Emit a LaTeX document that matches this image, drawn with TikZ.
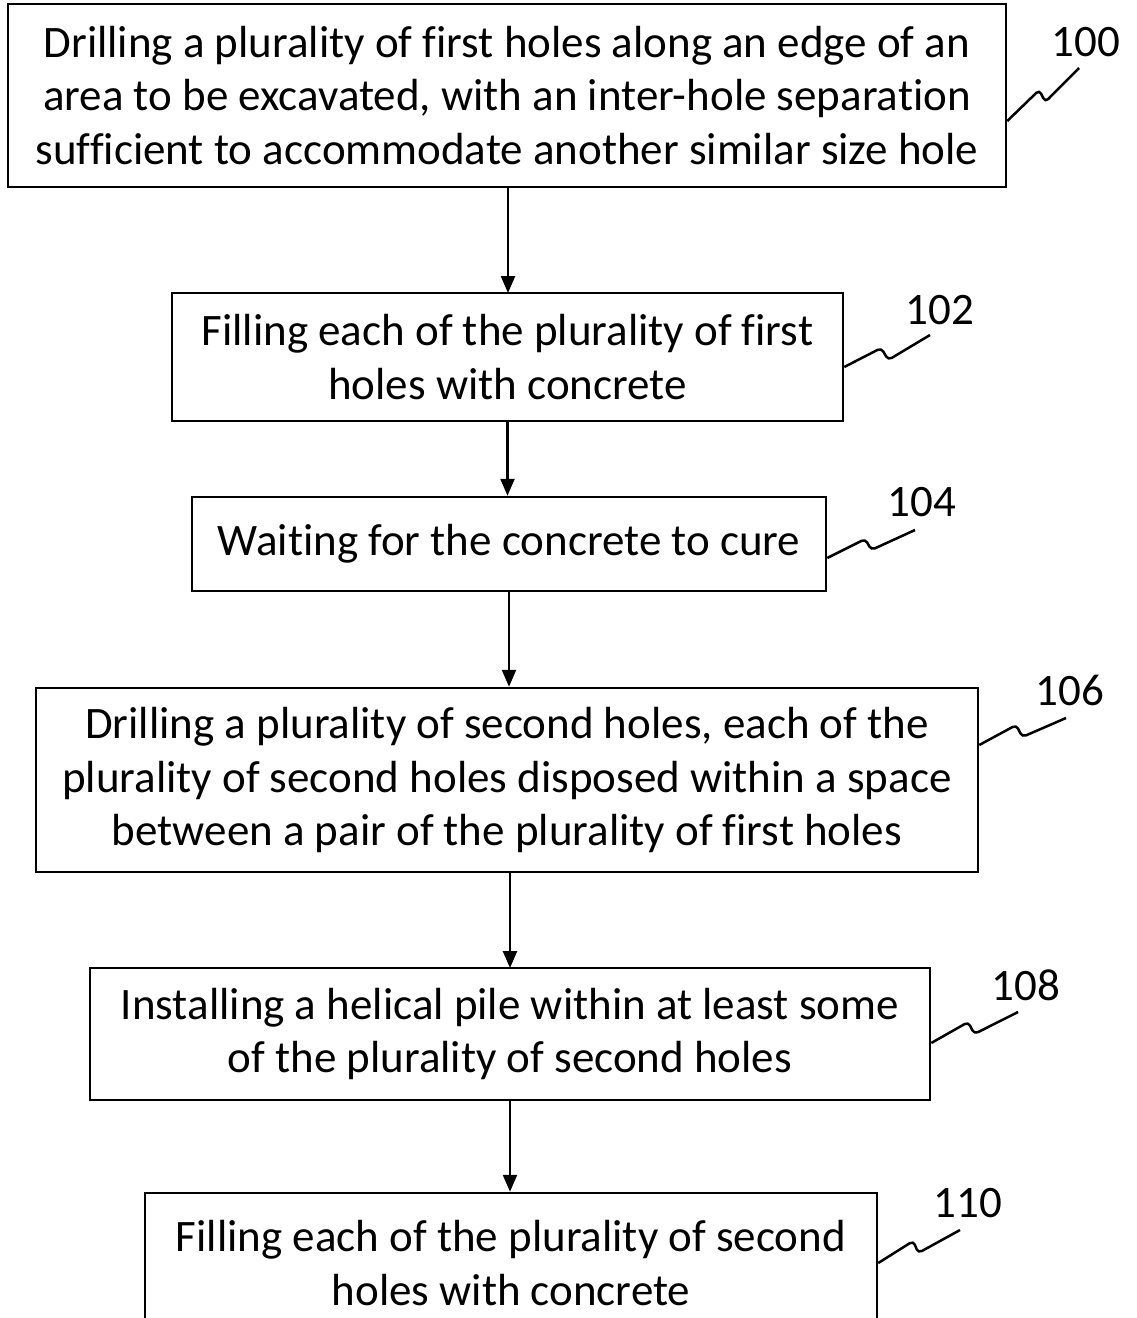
\documentclass[tikz,border=0pt]{standalone}
\usepackage{fontspec}
\setmainfont[Ligatures={NoCommon}]{Carlito}
\usetikzlibrary{arrows.meta}
\begin{document}
\begin{tikzpicture}[x=1pt,y=-1pt,
  stepbox/.style={draw,line width=2.5pt,align=center,inner sep=0pt,
    font=\fontsize{45}{53.5}\selectfont},
  flow/.style={line width=2.5pt,-{Triangle[length=17pt,width=14pt]}},
  squig/.style={line width=2.5pt,rounded corners=4pt},
  lbl/.style={font=\fontsize{45}{50}\selectfont,inner sep=0pt}]
\useasboundingbox (0,0) rectangle (1137,1318);
\node[stepbox,minimum width=998pt,minimum height=183pt] (b100) at (507,95.5)
  {Drilling a plurality of first holes along an edge of an\\area to be excavated, with an inter-hole separation\\sufficient to accommodate another similar size hole};
\node[stepbox,minimum width=671pt,minimum height=128pt] (b102) at (507.5,357)
  {Filling each of the plurality of first\\holes with concrete};
\node[stepbox,minimum width=634pt,minimum height=94pt] (b104) at (509,544)
  {Waiting for the concrete to cure};
\node[stepbox,minimum width=942pt,minimum height=184pt] (b106) at (507,780)
  {Drilling a plurality of second holes, each of the\\plurality of second holes disposed within a space\\between a pair of the plurality of first holes};
\node[stepbox,minimum width=840pt,minimum height=132pt] (b108) at (510,1034)
  {Installing a helical pile within at least some\\of the plurality of second holes};
\node[stepbox,minimum width=732pt,minimum height=140pt] (b110) at (511,1263)
  {Filling each of the plurality of second\\holes with concrete};
\draw[flow] (508,187) -- (508,293);
\draw[flow] (b102.south) -- (b102.south |- b104.north);
\draw[flow] (b104.south) -- (b104.south |- b106.north);
\draw[flow] (510,872) -- (510,968);
\draw[flow] (b108.south) -- (b108.south |- b110.north);
\node[lbl] (l100) at (1086,42) {100};
\node[lbl] (l102) at (940,310) {102};
\node[lbl] (l104) at (922,502) {104};
\node[lbl] (l106) at (1070,690) {106};
\node[lbl] (l108) at (1026,985) {108};
\node[lbl] (l110) at (968,1203) {110};
\coordinate (s100) at (1079,68);
\coordinate (s102) at (930,335);
\coordinate (s104) at (915,530);
\coordinate (s106) at (1066,718);
\coordinate (s108) at (1018,1012);
\coordinate (s110) at (960,1230);
\draw[squig] (b100.east |- 0,121) -- ++(32,-31) -- ++(6,12) -- (s100);
\draw[squig] (b102.east |- 0,367) -- ++(37,-19) -- ++(7,12) -- (s102);
\draw[squig] (b104.east |- 0,558) -- ++(38,-19) -- ++(6,11) -- (s104);
\draw[squig] (b106.east |- 0,745) -- ++(37,-20) -- ++(6,12) -- (s106);
\draw[squig] (b108.east |- 0,1043) -- ++(37,-21) -- ++(6,12) -- (s108);
\draw[squig] (b110.east |- 0,1263) -- ++(35,-22) -- ++(5,12) -- (s110);
\end{tikzpicture}
\end{document}
